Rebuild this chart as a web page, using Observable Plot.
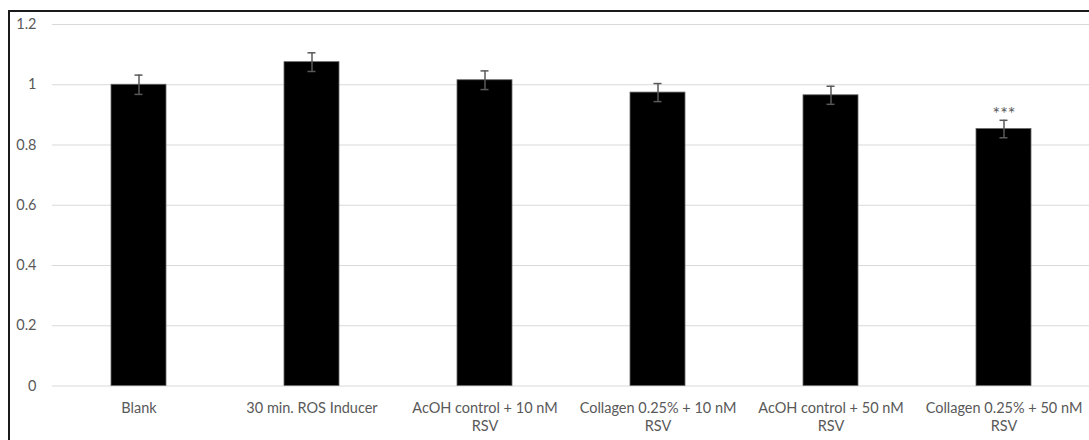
<!DOCTYPE html>
<html>
<head>
<meta charset="utf-8">
<script src="https://cdn.jsdelivr.net/npm/d3@7"></script>
<script src="https://cdn.jsdelivr.net/npm/@observablehq/plot@0.6"></script>
<style>
  html, body { margin: 0; padding: 0; background: #fff; overflow: hidden; }
  #frame { position: absolute; left: 8px; top: 10px; width: 1200px; height: 600px; border: 2px solid #1a1a1a; box-sizing: border-box; }
  #chart { position: absolute; left: 0; top: 0; }
</style>
</head>
<body>
<div id="frame"></div>
<div id="chart"></div>
<script>
const categories = [
  "Blank",
  "30 min. ROS Inducer",
  "AcOH control + 10 nM\nRSV",
  "Collagen 0.25% + 10 nM\nRSV",
  "AcOH control + 50 nM\nRSV",
  "Collagen 0.25% + 50 nM\nRSV"
];
const values = [1.0, 1.075, 1.015, 0.974, 0.965, 0.853];
const errors = [0.032, 0.031, 0.031, 0.030, 0.030, 0.029];
const significance = ["", "", "", "", "", "***"];
const yTicks = [0, 0.2, 0.4, 0.6, 0.8, 1, 1.2];

const data = categories.map((c, i) => ({
  category: c, value: values[i], err: errors[i], sig: significance[i]
}));

const font = "Lato, 'Open Sans', sans-serif";
const gray = "#595959";

const chart = Plot.plot({
  width: 1089,
  height: 440,
  marginLeft: 52,
  marginRight: -2,
  marginTop: 24,
  marginBottom: 54.5,
  style: { fontFamily: font, fontSize: "14.5px", color: gray, background: "transparent" },
  x: { domain: categories, paddingInner: 0.68, paddingOuter: 0.34, label: null },
  y: { domain: [0, 1.2], label: null },
  marks: [
    Plot.gridY(yTicks, { stroke: "#d9d9d9", strokeOpacity: 1, strokeWidth: 1.2 }),
    Plot.axisY({ ticks: yTicks, tickSize: 0, tickPadding: 16, tickFormat: d => String(d), fill: gray, fontSize: 14.5, label: null }),
    Plot.axisX({ tickSize: 0, tickPadding: 14, fill: gray, fontSize: 14.5, lineHeight: 1.25, label: null }),
    Plot.barY(data, { x: "category", y: "value", fill: "#000", stroke: "#666", strokeWidth: 0.8 }),
    Plot.ruleX(data, { x: "category", y1: d => d.value - d.err, y2: d => d.value + d.err, stroke: gray, strokeWidth: 1.5 }),
    Plot.tickY(data, { x: "category", y: d => d.value + d.err, stroke: gray, strokeWidth: 1.5, insetLeft: 23.5, insetRight: 23.5 }),
    Plot.tickY(data, { x: "category", y: d => d.value - d.err, stroke: gray, strokeWidth: 1.5, insetLeft: 23.5, insetRight: 23.5 }),
    Plot.text(data, { x: "category", y: d => d.value + d.err, text: "sig", dy: -6, fill: gray, fontSize: 18, letterSpacing: "1px" })
  ]
});
document.getElementById("chart").appendChild(chart);
</script>
</body>
</html>
